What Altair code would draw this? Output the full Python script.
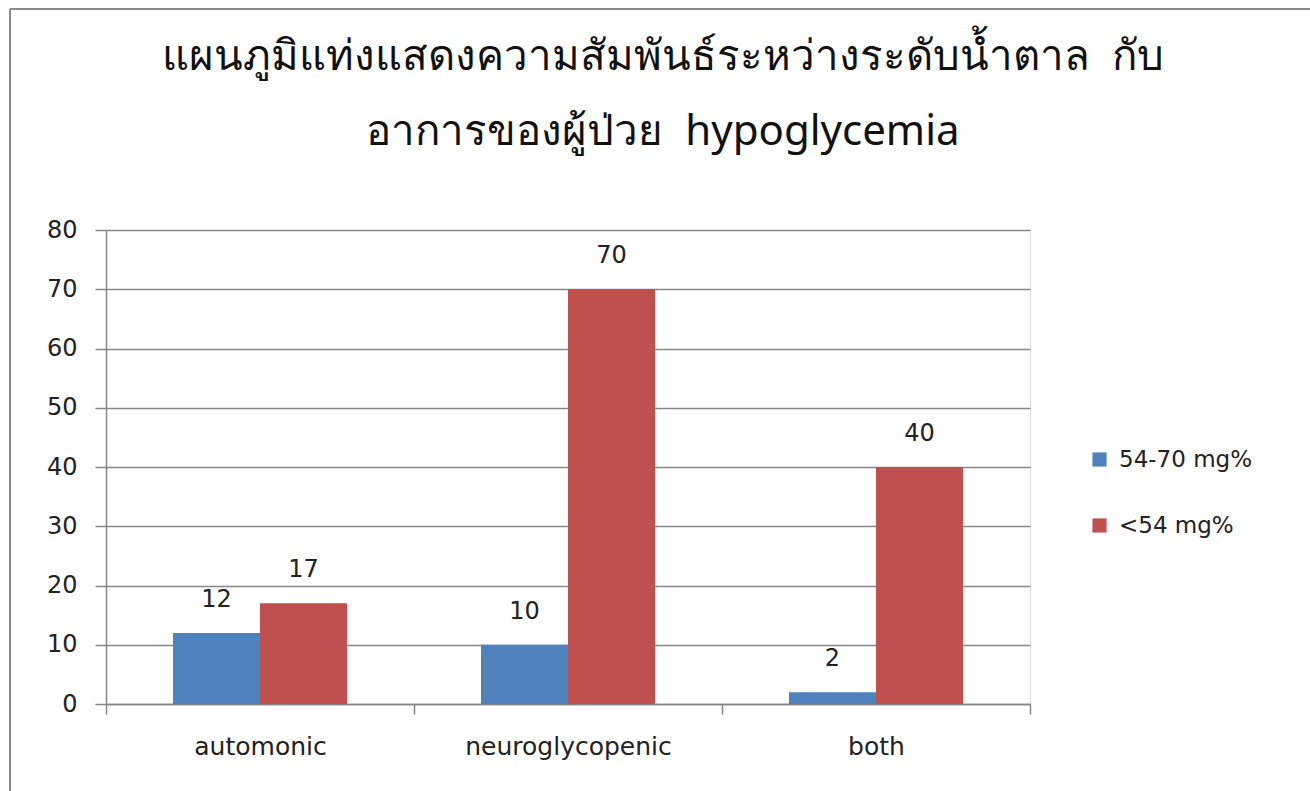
import altair as alt
import pandas as pd

# Symptom groups and glucose-level series
categories = ["automonic", "neuroglycopenic", "both"]
series = ["54-70 mg%", "<54 mg%"]
values_54_70 = [12, 10, 2]
values_below_54 = [17, 70, 40]
colors = ["#4F81BD", "#C0504D"]
y_ticks = [0, 10, 20, 30, 40, 50, 60, 70, 80]

title_lines = [
    "แผนภูมิแท่งแสดงความสัมพันธ์ระหว่างระดับน้ำตาล\u00a0\u00a0กับ",
    "อาการของผู้ป่วย\u00a0\u00a0hypoglycemia",
]

rows = []
for s, vals in zip(series, [values_54_70, values_below_54]):
    for c, v in zip(categories, vals):
        rows.append({"category": c, "series": s, "value": v})
df = pd.DataFrame(rows)

FONT = "DejaVu Sans"
GRAY = "#868686"
TEXT = "#222222"

x_enc = alt.X(
    "category:N",
    sort=categories,
    scale=alt.Scale(paddingInner=0, paddingOuter=0),
    axis=alt.Axis(
        title=None,
        labelAngle=0,
        labelFontSize=25,
        labelFont=FONT,
        labelColor=TEXT,
        labelLimit=0,
        labelPadding=20,
        tickBand="extent",
        tickSize=10,
        tickColor=GRAY,
        domainColor=GRAY,
        domainWidth=1.5,
        tickWidth=1.5,
        grid=False,
    ),
)
xoff_enc = alt.XOffset(
    "series:N", sort=series, scale=alt.Scale(paddingInner=0, paddingOuter=0.77)
)
y_enc = alt.Y(
    "value:Q",
    scale=alt.Scale(domain=[0, 80], nice=False),
    axis=alt.Axis(
        title=None,
        values=y_ticks,
        labelFontSize=24,
        labelFont=FONT,
        labelColor=TEXT,
        labelPadding=18,
        tickSize=11,
        tickColor=GRAY,
        tickWidth=1.5,
        domainColor=GRAY,
        domainWidth=1.5,
        grid=True,
        gridColor=GRAY,
        gridWidth=1.5,
    ),
)

bars = alt.Chart(df).mark_bar(size=87).encode(
    x=x_enc,
    xOffset=xoff_enc,
    y=y_enc,
    color=alt.Color(
        "series:N",
        sort=series,
        scale=alt.Scale(domain=series, range=colors),
        legend=alt.Legend(
            title=None,
            orient="none",
            legendX=982,
            legendY=218,
            symbolType="square",
            symbolSize=200,
            symbolStrokeWidth=0,
            labelFontSize=23,
            labelFont=FONT,
            labelColor=TEXT,
            labelOffset=8,
            rowPadding=42,
        ),
    ),
)

labels = alt.Chart(df).mark_text(
    baseline="bottom", dy=-21, fontSize=24, font=FONT, color=TEXT
).encode(
    x=alt.X("category:N", sort=categories),
    xOffset=alt.XOffset("series:N", sort=series),
    y="value:Q",
    text="value:Q",
)

# Outer frame lines along the top and left edges
frame_top = alt.Chart(df).mark_rule(color="#8a8a8a", strokeWidth=2).encode(
    x=alt.value(-96), x2=alt.value(1300), y=alt.value(-221)
)
frame_left = alt.Chart(df).mark_rule(color="#8a8a8a", strokeWidth=2).encode(
    x=alt.value(-96), y=alt.value(-221), y2=alt.value(600)
)

chart = (
    alt.layer(frame_top, frame_left, bars, labels)
    .properties(
        width=924,
        height=474,
        title=alt.TitleParams(
            text=title_lines,
            fontSize=42,
            font="Noto Sans",
            fontWeight="normal",
            color="#111111",
            lineHeight=75,
            anchor="middle",
            dx=95,
            offset=-146,
        ),
        autosize=alt.AutoSizeParams(type="none"),
        padding={"left": 106, "top": 230, "right": 280, "bottom": 87},
    )
    .configure_view(stroke=None)
    .configure(background="white")
)

chart.save("out.html", embed_options={"renderer": "svg", "actions": False})
